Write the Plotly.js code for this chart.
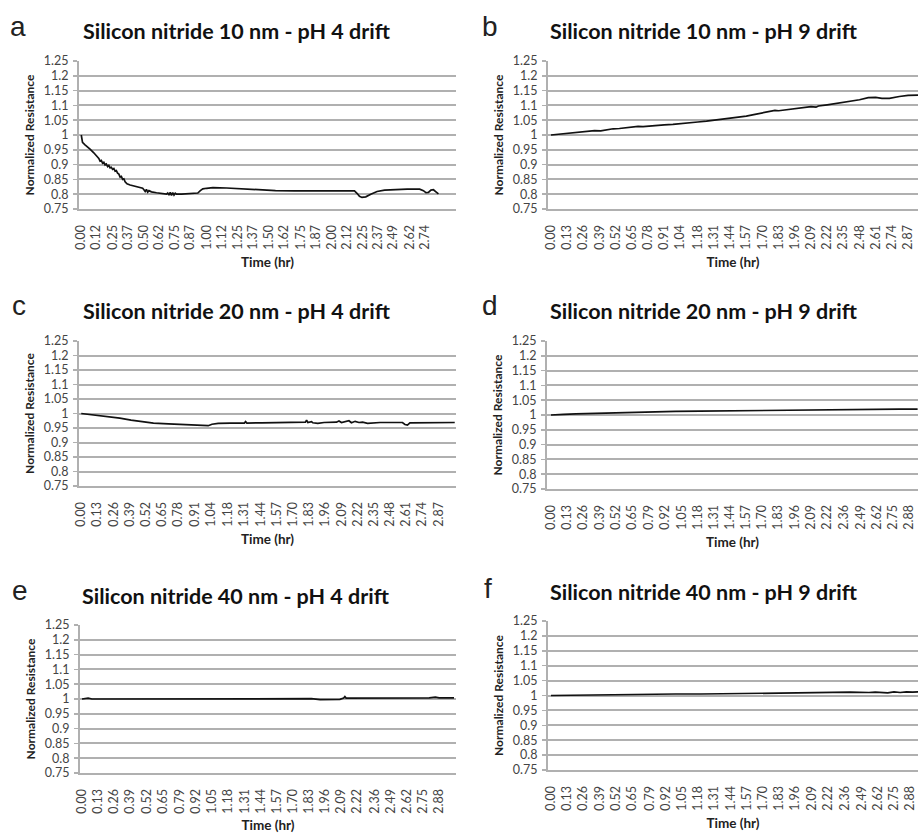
<!DOCTYPE html>
<html><head><meta charset="utf-8">
<script src="https://cdn.plot.ly/plotly-3.0.1.min.js"></script>
<style>html,body{margin:0;padding:0;background:#fff}#chart{width:918px;height:833px}</style>
</head><body><div id="chart"></div>
<script>
// ---- data (time in hr, normalized resistance) ----
const panelA = [[0,1.000],[0.005,0.985],[0.01,0.975],[0.03,0.967],[0.045,0.962],[0.07,0.952],[0.10,0.940],[0.12,0.930],[0.14,0.921],[0.15,0.912],[0.16,0.914],[0.17,0.905],[0.18,0.908],[0.19,0.899],[0.20,0.902],[0.21,0.893],[0.22,0.897],[0.23,0.889],[0.24,0.891],[0.25,0.884],[0.26,0.887],[0.27,0.878],[0.28,0.880],[0.29,0.871],[0.30,0.868],[0.31,0.858],[0.32,0.860],[0.33,0.850],[0.34,0.852],[0.35,0.842],[0.365,0.835],[0.39,0.831],[0.42,0.828],[0.445,0.825],[0.47,0.823],[0.49,0.820],[0.50,0.815],[0.51,0.809],[0.52,0.816],[0.53,0.807],[0.54,0.812],[0.56,0.808],[0.60,0.805],[0.63,0.803],[0.66,0.801],[0.68,0.800],[0.69,0.804],[0.70,0.797],[0.71,0.806],[0.72,0.796],[0.73,0.805],[0.74,0.797],[0.75,0.803],[0.76,0.800],[0.80,0.800],[0.85,0.801],[0.90,0.802],[0.93,0.804],[0.95,0.812],[0.97,0.818],[1.00,0.820],[1.05,0.822],[1.16,0.821],[1.30,0.818],[1.43,0.814],[1.55,0.812],[1.70,0.811],[1.85,0.811],[2.00,0.811],[2.10,0.812],[2.15,0.813],[2.18,0.811],[2.20,0.803],[2.22,0.793],[2.24,0.789],[2.27,0.791],[2.31,0.800],[2.36,0.809],[2.42,0.814],[2.50,0.816],[2.60,0.817],[2.70,0.817],[2.73,0.812],[2.75,0.805],[2.77,0.806],[2.79,0.814],[2.81,0.815],[2.83,0.808],[2.85,0.801]];
const panelB = [[0,1.000],[0.05,1.002],[0.10,1.004],[0.15,1.006],[0.20,1.008],[0.25,1.011],[0.30,1.013],[0.35,1.015],[0.40,1.014],[0.45,1.018],[0.50,1.021],[0.55,1.022],[0.60,1.024],[0.65,1.027],[0.70,1.029],[0.74,1.028],[0.78,1.030],[0.85,1.032],[0.91,1.034],[0.98,1.036],[1.04,1.039],[1.10,1.041],[1.15,1.045],[1.18,1.044],[1.25,1.047],[1.31,1.050],[1.38,1.053],[1.44,1.056],[1.50,1.060],[1.57,1.064],[1.63,1.069],[1.70,1.075],[1.76,1.080],[1.80,1.083],[1.83,1.082],[1.90,1.086],[1.96,1.090],[2.03,1.094],[2.09,1.096],[2.13,1.094],[2.15,1.098],[2.22,1.102],[2.28,1.106],[2.35,1.110],[2.41,1.115],[2.48,1.119],[2.55,1.126],[2.61,1.127],[2.66,1.124],[2.72,1.124],[2.80,1.130],[2.87,1.134],[2.95,1.135]];
const panelC = [[0,1.000],[0.10,0.995],[0.20,0.990],[0.31,0.984],[0.40,0.977],[0.50,0.971],[0.58,0.967],[0.70,0.964],[0.80,0.962],[0.90,0.961],[0.95,0.960],[0.98,0.957],[1.00,0.959],[1.02,0.958],[1.05,0.963],[1.10,0.966],[1.20,0.967],[1.31,0.967],[1.32,0.972],[1.33,0.967],[1.45,0.968],[1.60,0.968],[1.75,0.969],[1.80,0.970],[1.81,0.977],[1.82,0.969],[1.85,0.972],[1.86,0.968],[1.90,0.966],[1.95,0.969],[2.05,0.970],[2.07,0.974],[2.09,0.969],[2.12,0.972],[2.15,0.975],[2.17,0.968],[2.20,0.973],[2.23,0.969],[2.26,0.970],[2.30,0.966],[2.40,0.969],[2.50,0.969],[2.58,0.969],[2.60,0.962],[2.62,0.960],[2.64,0.968],[2.75,0.969],[2.90,0.969],[3.00,0.969]];
const panelD = [[0,1.000],[0.05,1.000],[0.10,1.002],[0.20,1.004],[0.30,1.005],[0.40,1.007],[0.50,1.008],[0.65,1.010],[0.80,1.011],[1.00,1.012],[1.20,1.013],[1.40,1.014],[1.60,1.015],[1.80,1.017],[2.00,1.018],[2.20,1.019],[2.40,1.020],[2.60,1.020],[2.80,1.020],[2.95,1.020]];
const panelE = [[0,1.000],[0.05,1.003],[0.08,1.000],[0.20,1.000],[0.30,1.001],[0.45,1.000],[0.55,1.002],[0.65,1.000],[0.80,1.001],[0.92,1.002],[0.98,1.000],[1.05,1.002],[1.20,1.000],[1.35,1.001],[1.50,1.000],[1.70,1.002],[1.85,1.001],[1.92,0.998],[2.00,0.998],[2.08,0.999],[2.11,1.003],[2.12,1.008],[2.13,1.003],[2.30,1.003],[2.50,1.003],[2.60,1.004],[2.70,1.004],[2.75,1.005],[2.80,1.004],[2.85,1.006],[2.88,1.004],[3.00,1.004]];
const panelF = [[0,1.000],[0.20,1.001],[0.40,1.003],[0.60,1.005],[0.80,1.005],[1.00,1.005],[1.20,1.005],[1.40,1.006],[1.55,1.006],[1.57,1.008],[1.70,1.008],[1.85,1.010],[2.00,1.010],[2.20,1.011],[2.40,1.011],[2.55,1.010],[2.60,1.011],[2.70,1.009],[2.75,1.012],[2.80,1.010],[2.85,1.012],[2.90,1.011],[2.95,1.012]];

const panelLetters = ['a','b','c','d','e','f'];
const panelTitles = ['Silicon nitride 10 nm - pH 4 drift','Silicon nitride 10 nm - pH 9 drift','Silicon nitride 20 nm - pH 4 drift','Silicon nitride 20 nm - pH 9 drift','Silicon nitride 40 nm - pH 4 drift','Silicon nitride 40 nm - pH 9 drift'];
const xTitle = 'Time (hr)';
const yTitle = 'Normalized Resistance';
const yTickLabels = ['0.75','0.8','0.85','0.9','0.95','1','1.05','1.1','1.15','1.2','1.25'];
const xTicksA = ['0.00','0.12','0.25','0.37','0.50','0.62','0.75','0.87','1.00','1.12','1.25','1.37','1.50','1.62','1.75','1.87','2.00','2.12','2.25','2.37','2.49','2.62','2.74'];
const xTicksBC = ['0.00','0.13','0.26','0.39','0.52','0.65','0.78','0.91','1.04','1.18','1.31','1.44','1.57','1.70','1.83','1.96','2.09','2.22','2.35','2.48','2.61','2.74','2.87'];
const xTicksDEF = ['0.00','0.13','0.26','0.39','0.52','0.65','0.79','0.92','1.05','1.18','1.31','1.44','1.57','1.70','1.83','1.96','2.09','2.22','2.36','2.49','2.62','2.75','2.88'];

// ---- layout geometry (pixels) ----
const W = 918, H = 833;
const panels = [
  {data: panelA, ticks: xTicksA,   px: [79, 456],  py: [61, 209],  xr: [-0.018, 2.99]},
  {data: panelB, ticks: xTicksBC,  px: [548, 918], py: [61, 209],  xr: [-0.024, 2.95]},
  {data: panelC, ticks: xTicksBC,  px: [79, 456],  py: [341, 486], xr: [-0.018, 3.01]},
  {data: panelD, ticks: xTicksDEF, px: [547, 918], py: [341, 489], xr: [-0.032, 2.953]},
  {data: panelE, ticks: xTicksDEF, px: [80, 456],  py: [625, 773], xr: [-0.016, 3.016]},
  {data: panelF, ticks: xTicksDEF, px: [548, 918], py: [621, 770], xr: [-0.024, 2.943]}
];
const titlePos = [[237, 31], [704, 31], [237, 311], [704, 311], [236, 596], [704, 592]];
const letterPos = [[18, 26], [490, 26], [19, 306], [490, 306], [20, 590], [488, 588]];

const gridCol = '#b0b0b0';
const fontFam = 'Lato, "Open Sans", sans-serif';
const traces = [];
const layout = {
  width: W, height: H,
  margin: {l: 0, r: 0, t: 0, b: 0},
  paper_bgcolor: '#ffffff', plot_bgcolor: '#ffffff',
  showlegend: false, hovermode: false,
  font: {family: fontFam, color: '#333333'},
  annotations: []
};

panels.forEach((p, i) => {
  const n = i === 0 ? '' : String(i + 1);
  traces.push({
    x: p.data.map(d => d[0]), y: p.data.map(d => d[1]),
    type: 'scatter', mode: 'lines',
    xaxis: 'x' + n, yaxis: 'y' + n,
    line: {color: '#111111', width: 1.7}
  });
  layout['xaxis' + n] = {
    domain: [p.px[0] / W, Math.min(1, p.px[1] / W)],
    anchor: 'y' + n,
    range: p.xr,
    tickmode: 'array', tickvals: p.ticks.map(Number), ticktext: p.ticks,
    tickangle: -90, tickfont: {size: 12.5, color: '#444444', family: fontFam},
    ticks: 'outside', ticklen: 9, tickcolor: 'rgba(0,0,0,0)',
    showgrid: false, zeroline: false,
    showline: true, linecolor: gridCol, linewidth: 2,
    title: {text: xTitle, font: {size: 13.5, weight: 700, color: '#222222', family: fontFam}, standoff: 9}
  };
  layout['yaxis' + n] = {
    domain: [1 - p.py[1] / H, 1 - p.py[0] / H],
    anchor: 'x' + n,
    range: [0.75, 1.25],
    tickmode: 'array', tickvals: yTickLabels.map(Number), ticktext: yTickLabels,
    tickfont: {size: 12.5, color: '#444444', family: fontFam},
    ticks: 'outside', ticklen: 4, tickcolor: gridCol, tickwidth: 1.5, ticklabelstandoff: 2,
    showgrid: true, gridcolor: gridCol, gridwidth: 2,
    zeroline: false, showline: true, linecolor: gridCol, linewidth: 2,
    title: {text: yTitle, font: {size: 12, weight: 700, color: '#222222', family: fontFam}, standoff: 7}
  };
  layout.annotations.push({
    text: panelTitles[i], xref: 'paper', yref: 'paper',
    x: titlePos[i][0] / W, y: 1 - titlePos[i][1] / H,
    xanchor: 'center', yanchor: 'middle', showarrow: false,
    font: {size: 21.5, weight: 700, color: '#111111', family: fontFam}
  });
  layout.annotations.push({
    text: panelLetters[i], xref: 'paper', yref: 'paper',
    x: letterPos[i][0] / W, y: 1 - letterPos[i][1] / H,
    xanchor: 'center', yanchor: 'middle', showarrow: false,
    font: {size: 28, color: '#222222', family: '"Liberation Sans", Arial, sans-serif'}
  });
});

Plotly.newPlot('chart', traces, layout, {staticPlot: true, displayModeBar: false});
</script>
</body></html>
